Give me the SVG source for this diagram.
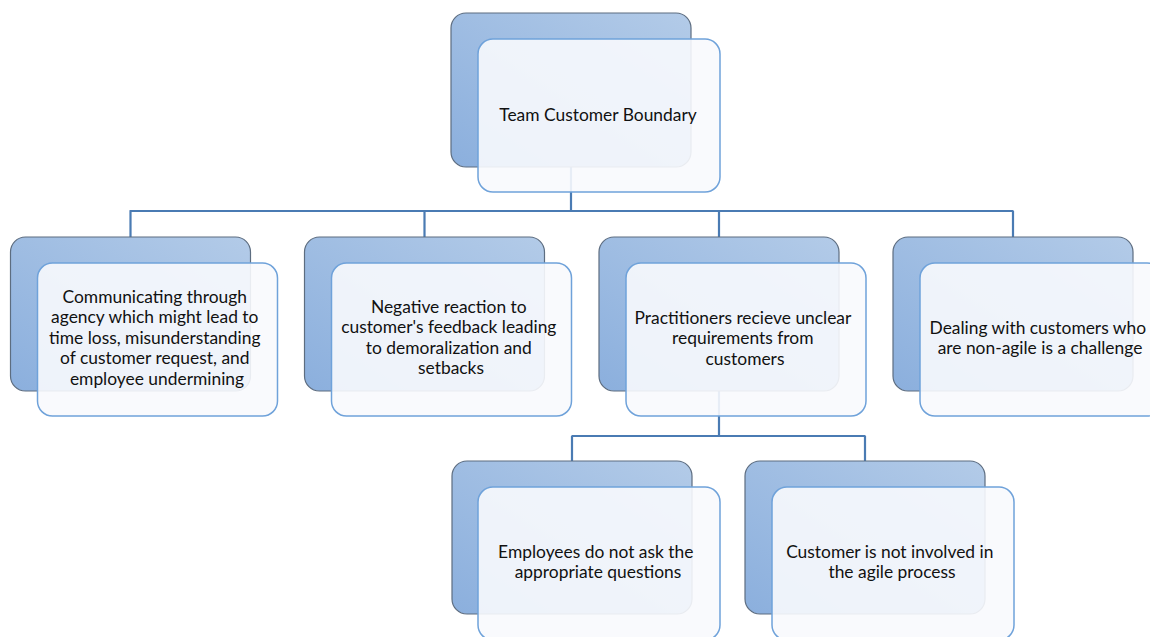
<svg xmlns="http://www.w3.org/2000/svg" width="1150" height="637" viewBox="0 0 1150 637">
  <defs>
    <linearGradient id="backFill" x1="1" y1="0" x2="0" y2="1">
      <stop offset="0" stop-color="#b3cbe8"/>
      <stop offset="1" stop-color="#8bafdd"/>
    </linearGradient>
    <style>
      .back { fill: url(#backFill); stroke: #5d6d80; stroke-width: 1.2; }
      .front { fill: #f8fafd; fill-opacity: 0.9; stroke: #6fa2da; stroke-width: 1.5; }
      .link { fill: none; stroke: #4a7bb3; stroke-width: 2.2; }
      .label { font-family: Lato, "Liberation Sans", sans-serif; font-size: 17.4px; fill: #111111; text-anchor: middle; }
    </style>
  </defs>

  <rect width="1150" height="637" fill="#ffffff"/>

  <!-- connectors -->
  <g id="connectors">
    <path class="link" d="M571 167 V211 M129.5 211 H1013.5 M130.5 211 V237 M424.5 211 V237 M719 211 V237 M1013 211 V237"/>
    <path class="link" d="M719 390 V436 M571.5 436 H865.5 M572 436 V461 M865 436 V461"/>
  </g>

  <!-- root -->
  <g id="node-root">
    <rect class="back" x="451" y="13" width="240" height="154" rx="15"/>
    <rect class="front" x="478" y="39" width="242" height="153" rx="15"/>
    <text class="label" x="598" y="121">Team Customer Boundary</text>
  </g>

  <g id="node-agency">
    <rect class="back" x="10.5" y="237" width="240" height="154" rx="15"/>
    <rect class="front" x="37.5" y="263" width="240" height="153" rx="15"/>
    <text class="label" x="157" y="303">
      <tspan x="157">Communicating through</tspan>
      <tspan x="157" dy="20.4">agency which might lead to</tspan>
      <tspan x="157" dy="20.4">time loss, misunderstanding</tspan>
      <tspan x="157" dy="20.4">of customer request, and</tspan>
      <tspan x="157" dy="20.4">employee undermining</tspan>
    </text>
  </g>

  <g id="node-feedback">
    <rect class="back" x="304.5" y="237" width="240" height="154" rx="15"/>
    <rect class="front" x="331.5" y="263" width="240" height="153" rx="15"/>
    <text class="label" x="451" y="313">
      <tspan x="451">Negative reaction to</tspan>
      <tspan x="451" dy="20.4">customer's feedback leading</tspan>
      <tspan x="451" dy="20.4">to demoralization and</tspan>
      <tspan x="451" dy="20.4">setbacks</tspan>
    </text>
  </g>

  <g id="node-requirements">
    <rect class="back" x="599" y="237" width="240" height="154" rx="15"/>
    <rect class="front" x="626" y="263" width="240" height="153" rx="15"/>
    <text class="label" x="745" y="324">
      <tspan x="745">Practitioners recieve unclear</tspan>
      <tspan x="745" dy="20.4">requirements from</tspan>
      <tspan x="745" dy="20.4">customers</tspan>
    </text>
  </g>

  <g id="node-nonagile">
    <rect class="back" x="893" y="237" width="240" height="154" rx="15"/>
    <rect class="front" x="920" y="263" width="242" height="153" rx="15"/>
    <text class="label" x="1040" y="334">
      <tspan x="1040">Dealing with customers who</tspan>
      <tspan x="1040" dy="20.4">are non-agile is a challenge</tspan>
    </text>
  </g>

  <g id="node-questions">
    <rect class="back" x="452" y="461" width="240" height="153" rx="15"/>
    <rect class="front" x="478" y="487" width="242" height="153" rx="15"/>
    <text class="label" x="598" y="558">
      <tspan x="598">Employees do not ask the</tspan>
      <tspan x="598" dy="20.4">appropriate questions</tspan>
    </text>
  </g>

  <g id="node-involvement">
    <rect class="back" x="745" y="461" width="240" height="153" rx="15"/>
    <rect class="front" x="772" y="487" width="242" height="153" rx="15"/>
    <text class="label" x="892" y="558">
      <tspan x="892">Customer is not involved in</tspan>
      <tspan x="892" dy="20.4">the agile process</tspan>
    </text>
  </g>
</svg>
